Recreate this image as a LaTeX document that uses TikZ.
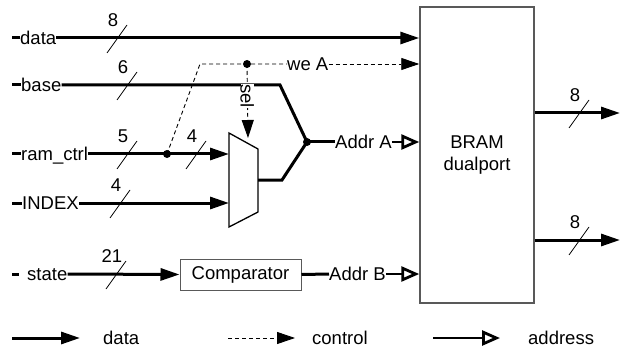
\documentclass[tikz,border=0pt]{standalone}
\usepackage{fontspec}
\setmainfont{Liberation Sans}
\usetikzlibrary{arrows.meta}
\begin{document}
\begin{tikzpicture}[x=1pt,y=-1pt,
  lbl/.style={inner sep=0pt, text height=13pt, text depth=0pt, font=\fontsize{18.5}{20}\selectfont},
  num/.style={inner sep=0pt, font=\fontsize{18.5}{20}\selectfont},
  bus/.style={line width=3pt},
  databus/.style={bus, -{Triangle[length=19pt,width=12pt]}},
  addrbus/.style={line width=2.6pt, -{Triangle[open,length=18pt,width=15pt,line width=2.8pt]}},
  ctrl/.style={line width=0.9pt, dash pattern=on 4pt off 3pt},
  ctrlarrow/.style={ctrl, -{Triangle[length=18pt,width=12pt]}},
  slashline/.style={line width=0.8pt},
  dot/.style={circle, fill=black, inner sep=0pt, minimum size=8pt},
  blockbox/.style={draw=black!65, line width=1.5pt, fill=white, align=center, font=\fontsize{18.5}{22}\selectfont},
  compbox/.style={draw=black!65, line width=1pt, inner sep=0pt, font=\fontsize{18.5}{20}\selectfont},
]
\useasboundingbox (0,0) rectangle (621,350);

% blocks
\node[blockbox, minimum width=114pt, minimum height=296pt] (bram) at (477,155) {BRAM\\dualport};
\node[compbox, minimum width=121pt, minimum height=31pt] (comp) at (240.5,274.5) {Comparator};

% mux
\coordinate (mTL) at (229,133);
\coordinate (mBL) at (229,227);
\coordinate (mTR) at (258,149);
\coordinate (mBR) at (258,212);
\draw[line width=1.3pt] (mTL) -- (mTR) -- (mBR) -- (mBL) -- cycle;
\coordinate (muxIn1) at (229,154);
\coordinate (muxIn2) at (229,203);
\coordinate (muxOut) at (258,180);
\coordinate (muxSel) at (248,138);

% input labels
\coordinate (dS) at (12,38);
\node[lbl, anchor=west] (data) at (20,38) {data};
\coordinate (bS) at (12,85);
\node[lbl, anchor=west] (base) at (21,85) {base};
\coordinate (rS) at (12,154);
\node[lbl, anchor=west] (ram) at (21,154) {ram\_ctrl};
\coordinate (iS) at (12,203);
\node[lbl, anchor=west] (index) at (22,203) {INDEX};
\coordinate (sS) at (12,274);
\coordinate (sE) at (19,274);
\node[lbl, anchor=west] (state) at (27,274) {state};

\foreach \a/\b in {dS/data, bS/base, rS/ram, iS/index}
  \draw[bus] (\a) -- (\b.west);
\draw[bus] (sS) -- (sE);

% data
\draw[databus] (data.east) -- (bram.west |- data.east);

% base -> addr mux
\node[dot] (jA) at (307,142) {};
\coordinate (bK) at (280,85);
\draw[bus, line join=miter] (base.east) -- (bK) -- (jA.center);
\coordinate (oK) at (282,180);
\draw[bus] (muxOut) -- (oK) -- (jA.center);

% ram_ctrl
\node[dot] (jR) at (167,154) {};
\draw[bus] (ram.east) -- (jR.center);
\draw[databus] (jR.center) -- (muxIn1);

% INDEX
\draw[databus] (index.east) -- (muxIn2);

% control
\coordinate (cK) at (200,64);
\node[dot] (jW) at (247,64) {};
\node[lbl, anchor=west] (weA) at (287,64) {we A};
\draw[ctrl] (jR.center) -- (cK) -- (jW.center) -- (weA.west);
\draw[ctrlarrow] (weA.east) -- (bram.west |- weA.east);
\draw[ctrlarrow] (jW.center) -- (muxSel);
\node[lbl, rotate=-90, fill=white] (sel) at (247,96) {sel};

% Addr A
\node[lbl, anchor=west] (addrA) at (335,142) {Addr A};
\draw[bus] (jA.center) -- (addrA.west);
\draw[addrbus] (addrA.east) -- (bram.west |- addrA.east);

% state / comparator
\draw[databus] (state.east) -- (comp.west);
\node[lbl, anchor=west] (addrB) at (329,274) {Addr B};
\draw[bus] (comp.east) -- (addrB.west);
\draw[addrbus] (addrB.east) -- (bram.west |- addrB.east);

% outputs
\coordinate (o1) at (620,113);
\coordinate (o2) at (620,240);
\draw[databus] (bram.east |- o1) -- (o1);
\draw[databus] (bram.east |- o2) -- (o2);

% bus width slashes
\foreach \x/\y/\n in {117/38/8, 127/85/6, 127/154/5, 196/154/4, 120/203/4, 116/274/21, 579/113/8, 579/240/8}{
  \draw[slashline] (\x-10,\y+15) -- (\x+10,\y-13);
  \node[num] at (\x-4,\y-18) {\n};
}

% legend
\coordinate (l1a) at (12,338);
\coordinate (l1b) at (80,338);
\draw[databus] (l1a) -- (l1b);
\node[lbl, anchor=west] (ldata) at (103,338) {data};
\coordinate (l2a) at (228,338);
\coordinate (l2b) at (295,338);
\draw[ctrlarrow] (l2a) -- (l2b);
\node[lbl, anchor=west] (lctrl) at (312,338) {control};
\coordinate (l3a) at (433,338);
\coordinate (l3b) at (500,338);
\draw[addrbus] (l3a) -- (l3b);
\node[lbl, anchor=west] (laddr) at (528,338) {address};
\end{tikzpicture}
\end{document}
